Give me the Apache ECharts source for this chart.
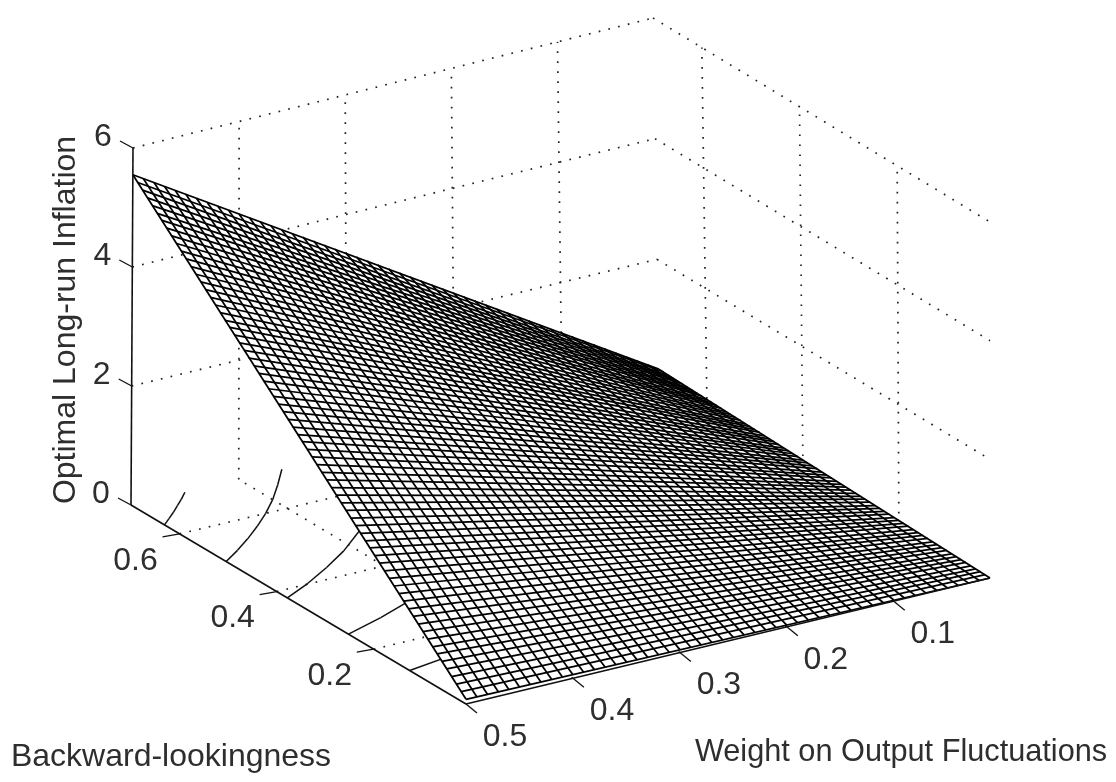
<!DOCTYPE html>
<html><head><meta charset="utf-8">
<style>html,body{margin:0;padding:0;background:#fff}#c{width:1116px;height:782px}</style>
<script src="https://cdn.jsdelivr.net/npm/echarts@6/dist/echarts.min.js"></script>
</head><body><div id="c"></div>
<script>
// ---- values ----
const zTicks = [0, 2, 4, 6];
const bTicks = [0.2, 0.4, 0.6];
const wTicks = [0.1, 0.2, 0.3, 0.4, 0.5];
const zTickLabels = ['0', '2', '4', '6'];
const bTickLabels = ['0.2', '0.4', '0.6'];
const wTickLabels = ['0.1', '0.2', '0.3', '0.4', '0.5'];
const zTitle = 'Optimal Long-run Inflation';
const bTitle = 'Backward-lookingness';
const wTitle = 'Weight on Output Fluctuations';
const wRange = [0.01, 0.5];
const bRange = [0.01, 0.7];
const zRange = [0, 6];
// mesh line positions
const meshW = [0.01,0.02,0.03,0.04,0.05,0.06,0.07,0.08,0.09,0.10,0.11,0.12,0.13,0.14,0.15,0.16,0.17,0.18,0.19,0.20,0.21,0.22,0.23,0.24,0.25,0.26,0.27,0.28,0.29,0.30,0.31,0.32,0.33,0.34,0.35,0.36,0.37,0.38,0.39,0.40,0.41,0.42,0.43,0.44,0.45,0.46,0.47,0.48,0.49,0.50];
const meshB = [0.01,0.02,0.03,0.04,0.05,0.06,0.07,0.08,0.09,0.10,0.11,0.12,0.13,0.14,0.15,0.16,0.17,0.18,0.19,0.20,0.21,0.22,0.23,0.24,0.25,0.26,0.27,0.28,0.29,0.30,0.31,0.32,0.33,0.34,0.35,0.36,0.37,0.38,0.39,0.40,0.41,0.42,0.43,0.44,0.45,0.46,0.47,0.48,0.49,0.50,0.51,0.52,0.53,0.54,0.55,0.56,0.57,0.58,0.59,0.60,0.61,0.62,0.63,0.64,0.65,0.66,0.67,0.68,0.69,0.70];
// surface height along its four borders
const zAtB70 = [0.18,0.29,0.40,0.51,0.62,0.73,0.84,0.95,1.06,1.17,1.27,1.38,1.49,1.60,1.71,1.82,1.93,2.04,2.15,2.26,2.37,2.48,2.59,2.70,2.81,2.92,3.03,3.14,3.25,3.36,3.47,3.58,3.69,3.80,3.90,4.01,4.12,4.23,4.34,4.45,4.56,4.67,4.78,4.89,5.00,5.11,5.22,5.33,5.44,5.55];
const zAtB01 = [0.00,0.00,0.00,0.01,0.01,0.01,0.01,0.01,0.01,0.02,0.02,0.02,0.02,0.02,0.02,0.03,0.03,0.03,0.03,0.03,0.03,0.04,0.04,0.04,0.04,0.04,0.04,0.04,0.05,0.05,0.05,0.05,0.05,0.05,0.06,0.06,0.06,0.06,0.06,0.06,0.07,0.07,0.07,0.07,0.07,0.07,0.08,0.08,0.08,0.08];
const zAtW50 = [0.08,0.16,0.24,0.32,0.40,0.48,0.56,0.63,0.71,0.79,0.87,0.95,1.03,1.11,1.19,1.27,1.35,1.43,1.51,1.59,1.67,1.74,1.82,1.90,1.98,2.06,2.14,2.22,2.30,2.38,2.46,2.54,2.62,2.70,2.78,2.85,2.93,3.01,3.09,3.17,3.25,3.33,3.41,3.49,3.57,3.65,3.73,3.81,3.89,3.97,4.04,4.12,4.20,4.28,4.36,4.44,4.52,4.60,4.68,4.76,4.84,4.92,5.00,5.08,5.15,5.23,5.31,5.39,5.47,5.55];
const zAtW01 = [0.00,0.01,0.01,0.01,0.01,0.02,0.02,0.02,0.02,0.03,0.03,0.03,0.03,0.04,0.04,0.04,0.04,0.05,0.05,0.05,0.05,0.06,0.06,0.06,0.06,0.07,0.07,0.07,0.07,0.08,0.08,0.08,0.08,0.09,0.09,0.09,0.10,0.10,0.10,0.10,0.11,0.11,0.11,0.11,0.12,0.12,0.12,0.12,0.13,0.13,0.13,0.13,0.14,0.14,0.14,0.14,0.15,0.15,0.15,0.15,0.16,0.16,0.16,0.16,0.17,0.17,0.17,0.17,0.18,0.18];
// floor contours, as [weight, backward] points
const contour5 = [[0.5,0.631],[0.49,0.644],[0.48,0.657],[0.47,0.671],[0.46,0.685],[0.45,0.70]];
const contour4 = [[0.5,0.504],[0.48,0.525],[0.46,0.548],[0.44,0.573],[0.42,0.600],[0.40,0.630],[0.38,0.664],[0.36,0.70]];
const contour3 = [[0.5,0.378],[0.47,0.402],[0.44,0.430],[0.41,0.461],[0.38,0.498],[0.35,0.540],[0.32,0.591],[0.29,0.652],[0.27,0.70]];
const contour2 = [[0.5,0.252],[0.46,0.274],[0.42,0.300],[0.38,0.332],[0.34,0.371],[0.30,0.420],[0.26,0.485],[0.22,0.573],[0.18,0.70]];
const contour1 = [[0.5,0.126],[0.45,0.140],[0.40,0.158],[0.35,0.180],[0.30,0.210],[0.25,0.252],[0.20,0.315]];
const contours = [contour5, contour4, contour3, contour2, contour1];

// ---- view: where the plot box sits on the page ----
const boxFloor = {A:[131,505], B:[466,704], C:[990,578], D:[659,380]};
const boxTop   = {A:[133,148], B:[470,352], C:[990,222], D:[653,18]};
const lerp = (a, b, t) => a + (b - a) * t;
function project(w, b, z) {
  const u = (w - wRange[0]) / (wRange[1] - wRange[0]);
  const v = (b - bRange[0]) / (bRange[1] - bRange[0]);
  const t = (z - zRange[0]) / (zRange[1] - zRange[0]);
  const at = (k, c) => lerp(lerp(c.C[k], c.B[k], u), lerp(c.D[k], c.A[k], u), v);
  return [lerp(at(0, boxFloor), at(0, boxTop), t), lerp(at(1, boxFloor), at(1, boxTop), t)];
}
const seg = (p, q, dx, dy) => [p[0] + (dx||0), p[1] + (dy||0), q[0], q[1]];

// ---- rows for the series ----
const gridRows = [];
const [wLo, wHi] = wRange, [bLo, bHi] = bRange;
bTicks.forEach(b => {
  gridRows.push(seg(project(wHi, b, 0), project(wLo, b, 0)));
  gridRows.push(seg(project(wLo, b, 0), project(wLo, b, 6)));
});
wTicks.forEach(w => {
  if (w < wHi) {
    gridRows.push(seg(project(w, bLo, 0), project(w, bHi, 0)));
    gridRows.push(seg(project(w, bHi, 0), project(w, bHi, 6)));
  }
});
zTicks.forEach(z => {
  if (z > 0) {
    gridRows.push(seg(project(wHi, bHi, z), project(wLo, bHi, z)));
    gridRows.push(seg(project(wLo, bHi, z), project(wLo, bLo, z)));
  }
});

const contourRows = [];
contours.forEach(c => {
  for (let i = 0; i + 1 < c.length; i++)
    contourRows.push(seg(project(c[i][0], c[i][1], 0), project(c[i+1][0], c[i+1][1], 0)));
});

const last = a => a[a.length - 1];
const fillRow = [[
  ...project(meshW[0], meshB[0], zAtB01[0]),
  ...project(last(meshW), meshB[0], last(zAtB01)),
  ...project(last(meshW), last(meshB), last(zAtB70)),
  ...project(meshW[0], last(meshB), zAtB70[0])
]];

const meshRows = [];
meshW.forEach((w, i) => meshRows.push(seg(project(w, meshB[0], zAtB01[i]), project(w, last(meshB), zAtB70[i]))));
meshB.forEach((b, i) => meshRows.push(seg(project(meshW[0], b, zAtW01[i]), project(last(meshW), b, zAtW50[i]))));

const axisRows = [
  seg(project(wHi, bHi, 0), project(wHi, bHi, 6)),
  seg(project(wHi, bHi, 0), project(wHi, bLo, 0)),
  seg(project(wHi, bLo, 0), project(wLo, bLo, 0))
];
const tickRows = [];
const textRows = [];
const tick = (p, dx, dy) => tickRows.push([p[0], p[1], p[0] + dx, p[1] + dy]);
zTicks.forEach((z, i) => {
  const p = project(wHi, bHi, z);
  tick(p, -13, -7);
  textRows.push({value: [p[0] - 30, p[1] - 10.5], text: zTickLabels[i], rot: 0, size: 32});
});
bTicks.forEach((b, i) => {
  const p = project(wHi, b, 0);
  tick(p, -17, 3);
  textRows.push({value: [p[0] - 44, p[1] + 27], text: bTickLabels[i], rot: 0, size: 32});
});
wTicks.forEach((w, i) => {
  const p = project(w, bLo, 0);
  tick(p, 11, 9);
  textRows.push({value: [p[0] + 39, p[1] + 33], text: wTickLabels[i], rot: 0, size: 32});
});
textRows.push({value: [66, 320], text: zTitle, rot: Math.PI / 2, size: 32});
textRows.push({value: [171, 757], text: bTitle, rot: 0, size: 32});
textRows.push({value: [901, 753], text: wTitle, rot: 0, size: 30.7});

function lineSeries(name, rows, style) {
  return {
    type: 'custom', name, silent: true, animation: false, coordinateSystem: 'cartesian2d',
    data: rows,
    encode: {x: [0, 2], y: [1, 3]},
    renderItem: (params, api) => {
      const p = api.coord([api.value(0), api.value(1)]);
      const q = api.coord([api.value(2), api.value(3)]);
      return {type: 'line', shape: {x1: p[0], y1: p[1], x2: q[0], y2: q[1]}, style};
    }
  };
}

const chart = echarts.init(document.getElementById('c'), null, {renderer: 'canvas'});
chart.setOption({
  animation: false,
  backgroundColor: '#ffffff',
  tooltip: {show: false},
  grid: {left: 0, right: 0, top: 0, bottom: 0},
  xAxis: {type: 'value', min: 0, max: 1116, show: false},
  yAxis: {type: 'value', min: 0, max: 782, inverse: true, show: false},
  series: [
    lineSeries('grid', gridRows, {stroke: '#222', lineWidth: 1.7, lineDash: [1.7, 8.3], fill: null}),
    lineSeries('contours', contourRows, {stroke: '#111', lineWidth: 1.5, fill: null}),
    {
      type: 'custom', name: 'surface fill', silent: true, animation: false, data: fillRow,
      encode: {x: [0, 2, 4, 6], y: [1, 3, 5, 7]},
      renderItem: (params, api) => {
        const pts = [0, 2, 4, 6].map(i => api.coord([api.value(i), api.value(i + 1)]));
        return {type: 'polygon', shape: {points: pts}, style: {fill: '#ffffff', stroke: null}};
      }
    },
    lineSeries('surface mesh', meshRows, {stroke: '#000', lineWidth: 1.75, fill: null}),
    lineSeries('axes', axisRows, {stroke: '#111', lineWidth: 1.6, fill: null}),
    lineSeries('ticks', tickRows, {stroke: '#111', lineWidth: 1.3, fill: null}),
    {
      type: 'custom', name: 'text', silent: true, animation: false, data: textRows,
      encode: {x: 0, y: 1},
      renderItem: (params, api) => {
        const p = api.coord([api.value(0), api.value(1)]);
        const row = textRows[params.dataIndex];
        return {
          type: 'text', x: p[0], y: p[1], rotation: row.rot,
          style: {text: row.text, fill: '#2e2e2e',
                  font: row.size + 'px "Liberation Sans", Arial, sans-serif',
                  align: 'center', verticalAlign: 'middle'}
        };
      }
    }
  ]
});
</script></body></html>
